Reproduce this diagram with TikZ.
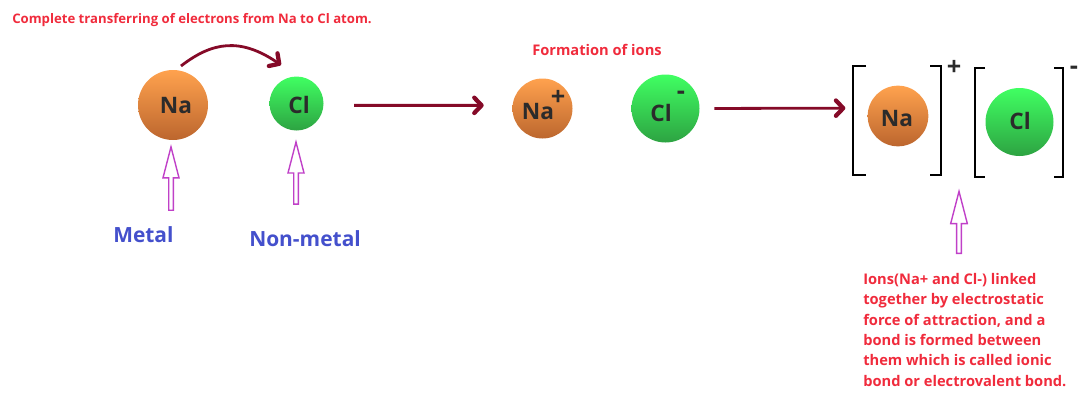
\documentclass[tikz,border=0pt]{standalone}
\usepackage{fontspec}
\setmainfont{Open Sans}
\usetikzlibrary{arrows.meta,calc,positioning,shapes.arrows}
\definecolor{naorange}{HTML}{F18A40}
\definecolor{natop}{HTML}{FFA24E}
\definecolor{nabottom}{HTML}{BC662E}
\definecolor{clgreen}{HTML}{36DE55}
\definecolor{cltop}{HTML}{40FF62}
\definecolor{clbottom}{HTML}{2DA342}
\definecolor{reddish}{HTML}{F02B3C}
\definecolor{bluish}{HTML}{4450CC}
\definecolor{purplish}{HTML}{C040C8}
\definecolor{darkred}{HTML}{850A28}
\definecolor{atomink}{HTML}{2B2B2B}
\tikzset{%
	naball/.style   = {circle, inner sep=0pt, top color=natop, middle color=naorange, bottom color=nabottom}, % Metal atom
	clball/.style   = {circle, inner sep=0pt, top color=cltop, middle color=clgreen, bottom color=clbottom}, % Non-metal atom
	atomtext/.style = {inner sep=0pt, text=atomink, font=\fontsize{17}{20}\selectfont\bfseries},
	charge/.style   = {inner sep=0pt, text=atomink, font=\fontsize{19}{20}\selectfont\bfseries},
	transfer/.style = {draw=darkred, line width=2.1pt, -{Straight Barb[length=5.5pt,width=11.5pt,line width=3.2pt,round]}},
	brak/.style     = {draw=black, line width=1.2pt},
	hollow/.style   = {draw=purplish, fill=white, line width=1.05pt, single arrow, rotate=90, inner sep=0pt, single arrow tip angle=29, single arrow head extend=1.3pt},
	redtext/.style  = {inner sep=0pt, text=reddish, font=\fontsize{11}{15.25}\selectfont\bfseries},
	bluetext/.style = {inner sep=0pt, text=bluish, font=\fontsize{15.7}{18}\selectfont\bfseries},
}
\begin{document}
\begin{tikzpicture}[x=0.75pt,y=-0.75pt]
		\useasboundingbox (0,0) rectangle (1082,400);
		% first row of atoms
		\node[naball,minimum size=52.5pt] (na1) at (173,105) {};
		\node[clball,minimum size=40.5pt] (cl1) at (296.5,103.5) {};
		\node[atomtext] (na1text) at (176,106) {Na};
		\node[atomtext] (cl1text) at (299,105) {Cl};
		\node[naball,minimum size=45pt] (na2) at (542.5,108.5) {};
		\node[clball,minimum size=51pt] (cl2) at (665.5,108.5) {};
		\node[atomtext] (na2text) at (538,112) {Na};
		\node[atomtext] (cl2text) at (661,113) {Cl};
		\node[charge] (na2plus) at (558,98) {+};
		\node[charge] (cl2minus) at (681,95) {-};
		\node[naball,minimum size=45.5pt] (na3) at (898,116) {};
		\node[clball,minimum size=51pt] (cl3) at (1019.5,122) {};
		\node[atomtext] (na3text) at (897,119) {Na};
		\node[atomtext] (cl3text) at (1020,121) {Cl};
		\node[charge] (na3plus) at (954,68) {+};
		\node[charge] (cl3minus) at (1074,70) {-};
		% brackets
		\draw[brak] (866,66) -| (853,175) -- (866,175);
		\draw[brak] (930,66) -| (941,175) -- (930,175);
		\draw[brak] (985,68) -| (975,177) -- (985,177);
		\draw[brak] (1054,68) -| (1063,177) -- (1054,177);
		% arrows between atoms
		\coordinate (jumpfrom) at (181,66);
		\coordinate (jumpto) at (281,65);
		\draw[transfer] (jumpfrom) .. controls (212,42) and (240,37) .. (jumpto);
		\draw[transfer,shorten <=22.9pt,shorten >=21.5pt] (cl1.-4) -- (na2.174);
		\draw[transfer,shorten <=10.9pt,shorten >=17.3pt] (cl2.east) -- (na3.165.7);
		% hollow arrows
		\node[hollow,minimum height=47.5pt,minimum width=12pt] (metalarrow) at (171,183) {};
		\node[hollow,minimum height=46.5pt,minimum width=12pt] (nonmetalarrow) at (296,177.5) {};
		\node[hollow,minimum height=46.5pt,minimum width=12.5pt] (bondarrow) at (959,227) {};
		% labels
		\node[redtext,anchor=west,font=\fontsize{9.87}{12}\selectfont\bfseries] (title) at (12,20) {Complete transferring of electrons from Na to Cl atom.};
		\node[redtext] (ions) at (597,50) {Formation of ions};
		\node[bluetext,anchor=west] (metal) at (113,235) {Metal};
		\node[bluetext,anchor=west] (nonmetal) at (249,239) {Non-metal};
		\node[redtext,anchor=north west,align=left] (bondnote) at (863,273) {Ions(Na+ and Cl-) linked\\together by electrostatic\\force of attraction, and a\\bond is formed between\\them which is called ionic\\bond or electrovalent bond.};
		\end{tikzpicture}
\end{document}
